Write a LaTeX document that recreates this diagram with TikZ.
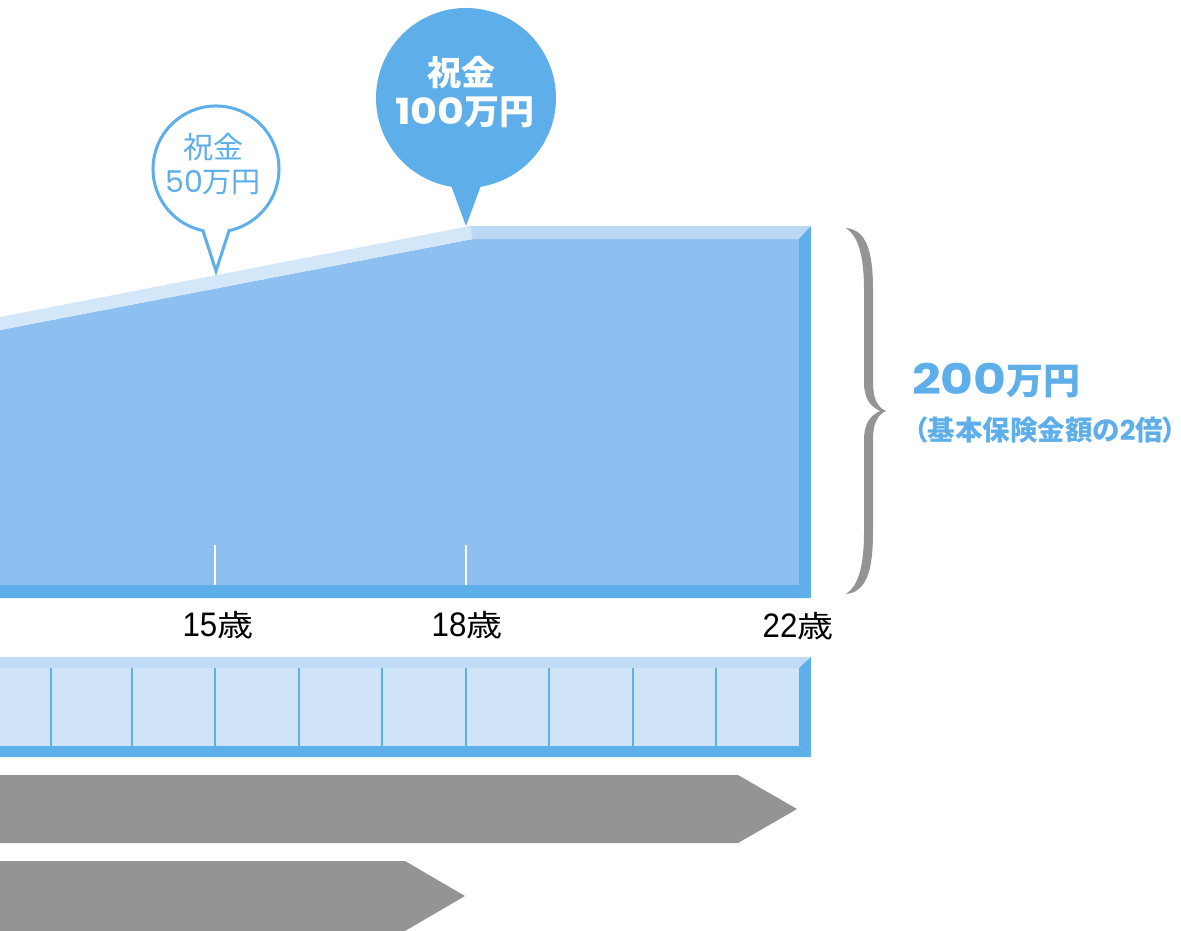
\documentclass[tikz,border=0pt]{standalone}
\usepackage{fontspec}
\setmainfont{Noto Sans CJK JP}
\newfontfamily\pop{Poppins}
\newfontfamily\popw[FakeStretch=1.2]{Poppins}
\newfontfamily\popm[FakeStretch=1.15]{Poppins}
\newfontfamily\libn[FakeStretch=0.92]{Liberation Sans}
\newfontfamily\jpw[FakeStretch=1.2]{Noto Sans CJK JP}
\newfontfamily\jpp[RawFeature=+palt]{Noto Sans CJK JP}
\definecolor{bodyblue}{HTML}{8DC0F0}
\definecolor{slopeband}{HTML}{D4E7F9}
\definecolor{topband}{HTML}{BAD7F4}
\definecolor{edgeblue}{HTML}{5DAFEA}
\definecolor{rowfill}{HTML}{D0E4F8}
\definecolor{rowtop}{HTML}{BFDBF6}
\definecolor{bubble}{HTML}{5DAEE9}
\definecolor{arrowgray}{HTML}{949494}
\newcommand{\agetext}[1]{{\libn\fontsize{34}{34}\selectfont #1}{\jpw\fontsize{30}{30}\selectfont 歳}}
\begin{document}
\begin{tikzpicture}[x=1pt,y=-1pt,
  txt/.style={inner sep=0pt, outer sep=0pt},
  agelabel/.style={txt, text=black},
  divider/.style={draw=edgeblue, line width=1.3pt},
  tick/.style={draw=white, line width=1.4pt},
  grayarrow/.style={fill=arrowgray}]
\useasboundingbox (0,0) rectangle (1181,930);

% ---- main benefit block ----
\fill[bodyblue] (0,330) -- (473,239) -- (799,239) -- (799,585) -- (0,585) -- cycle;
\fill[slopeband] (0,317) -- (470,226) -- (473,239) -- (0,330) -- cycle;
\fill[topband] (470,226) -- (811,226) -- (799,239) -- (473,239) -- cycle;
\fill[edgeblue] (811,226) -- (811,598) -- (799,585) -- (799,239) -- cycle;
\fill[edgeblue] (0,585) -- (799,585) -- (811,598) -- (0,598) -- cycle;
\draw[tick] (215,545) -- (215,585);
\draw[tick] (466,545) -- (466,585);

% ---- age labels ----
\node[agelabel] (a15) at (218,625) {\agetext{15}};
\node[agelabel] (a18) at (467,625) {\agetext{18}};
\node[agelabel] (a22) at (798,626) {\agetext{22}};

% ---- timeline row ----
\fill[rowfill] (0,668) -- (799,668) -- (799,746) -- (0,746) -- cycle;
\fill[rowtop] (0,657) -- (811,657) -- (799,668) -- (0,668) -- cycle;
\fill[edgeblue] (811,657) -- (811,757) -- (799,746) -- (799,668) -- cycle;
\fill[edgeblue] (0,746) -- (799,746) -- (811,757) -- (0,757) -- cycle;
\foreach \x in {51,132,215,299,382,466,549,633,716}
  \draw[divider] (\x,668) -- (\x,746);

% ---- gray arrows ----
\fill[grayarrow] (0,775) -- (738,775) -- (797,809) -- (738,843) -- (0,843) -- cycle;
\fill[grayarrow] (0,861) -- (405,861) -- (465,896) -- (405,931) -- (0,931) -- cycle;

% ---- brace ----
\fill[arrowgray] (846,228) .. controls (866,230) and (873,250) .. (873,290) -- (873,382)
  .. controls (873,398) and (877,407) .. (886,411)
  .. controls (877,415) and (873,424) .. (873,440) -- (873,532)
  .. controls (873,572) and (866,592) .. (846,594)
  .. controls (858,586) and (864,567) .. (864,532) -- (864,440)
  .. controls (864,425) and (869,416) .. (880,411)
  .. controls (869,406) and (864,397) .. (864,382) -- (864,290)
  .. controls (864,255) and (858,236) .. (846,228) -- cycle;

\node[txt, anchor=west, text=bubble] (total) at (912,381)
  {{\popw\bfseries\fontsize{42}{42}\selectfont 200}{\bfseries\fontsize{37}{37}\selectfont 万円}};
\node[txt, anchor=west, text=bubble] (note) at (914,430)
  {\jpp\bfseries\fontsize{27.5}{27.5}\selectfont （基本保険金額の{\pop 2}倍）};

% ---- small bubble ----
\draw[draw=bubble, fill=white, line width=3pt, line join=miter]
  (202.9,230.6) arc[start angle=102, end angle=438, radius=63] -- (216,271) -- cycle;
\node[txt, text=bubble] (s1) at (213,147) {\fontsize{30}{30}\selectfont 祝金};
\node[txt, text=bubble] (s2) at (213,182)
  {{\pop\fontsize{30}{30}\selectfont 50}{\fontsize{29}{29}\selectfont 万円}};

% ---- big bubble ----
\fill[bubble] (451.5,186.8) arc[start angle=99.27, end angle=440.73, radius=90] -- (466,226) -- cycle;
\node[txt, text=white] (b1) at (461,73) {\bfseries\fontsize{34}{34}\selectfont 祝金};
\node[txt, text=white] (b2) at (465,112)
  {{\popm\bfseries\fontsize{36}{36}\selectfont 100}{\bfseries\fontsize{35}{35}\selectfont 万円}};
\end{tikzpicture}
\end{document}
